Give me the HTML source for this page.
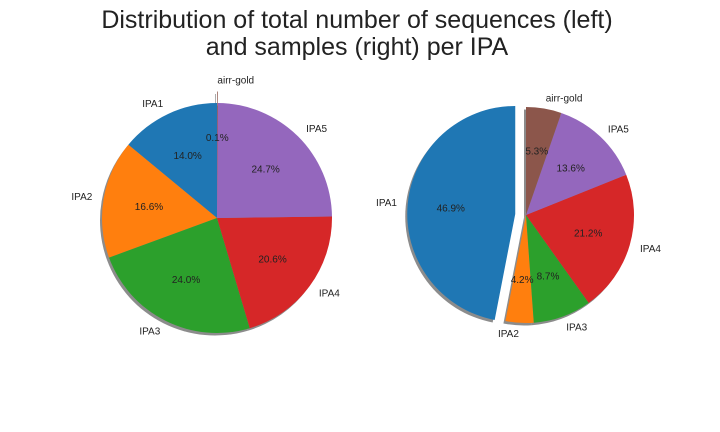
<!DOCTYPE html>
<html><head><meta charset="utf-8"><style>
html,body{margin:0;padding:0;background:#fff;}
svg{display:block;font-family:"Liberation Sans",sans-serif;}
</style></head><body>
<svg id="c" width="720" height="432" viewBox="0 0 720 432">
<text x="357" y="28" text-anchor="middle" font-size="25" fill="#222">Distribution of total number of sequences (left)</text>
<text x="357" y="55" text-anchor="middle" font-size="25" fill="#222">and samples (right) per IPA</text>
<g id="left"></g>
<g id="right"></g>
</svg>
<script>
const categories = ["IPA1","IPA2","IPA3","IPA4","IPA5","airr-gold"];
const seqValues = [14.0,16.6,24.0,20.6,24.7,0.1];
const sampleValues = [46.9,4.2,8.7,21.2,13.6,5.3];
const seqExplode = [0,0,0,0,0,0.1];
const sampleExplode = [0.1,0,0,0,0,0];
const colors = ["#1f77b4","#ff7f0e","#2ca02c","#d62728","#9467bd","#8c564b"];
const NS="http://www.w3.org/2000/svg";
function mk(t,a,p){const e=document.createElementNS(NS,t);for(const k in a)e.setAttribute(k,a[k]);p.appendChild(e);return e;}
function drawPie(g,vals,expl,cx,cy,r,prefix){
  const tot=vals.reduce((a,b)=>a+b,0);
  const wedges=[];let a=90;
  vals.forEach((v,i)=>{const s=a,e=a+v/tot*360;a=e;const m=(s+e)/2*Math.PI/180;
    wedges.push({s,e,m,ox:Math.cos(m)*expl[i]*r,oy:-Math.sin(m)*expl[i]*r});});
  function path(w,dx,dy){const x=cx+w.ox+dx,y=cy+w.oy+dy;
    const s=w.s*Math.PI/180,e=w.e*Math.PI/180;
    const x1=x+r*Math.cos(s),y1=y-r*Math.sin(s),x2=x+r*Math.cos(e),y2=y-r*Math.sin(e);
    const large=(w.e-w.s)>180?1:0;
    return `M${x},${y}L${x1},${y1}A${r},${r} 0 ${large} 0 ${x2},${y2}Z`;}
  wedges.forEach((w,i)=>{const sh=mk('path',{d:path(w,-2,2.5),fill:'#000','fill-opacity':0.45},g);
    
    });
  wedges.forEach((w,i)=>{const p=mk('path',{d:path(w,0,0),fill:colors[i]},g);
    
    });
  wedges.forEach((w,i)=>{const x=cx+w.ox,y=cy+w.oy;
    const lx=x+1.1*r*Math.cos(w.m),ly=y-1.1*r*Math.sin(w.m);
    const anchor=Math.cos(w.m)<-0.01?'end':'start';
    const t=mk('text',{x:lx,y:ly+3.5,'text-anchor':anchor,'font-size':10,fill:'#222'},g);t.textContent=categories[i];
    
    
    const px=x+0.6*r*Math.cos(w.m),py=y-0.6*r*Math.sin(w.m);
    const q=mk('text',{x:px,y:py+3.5,'text-anchor':'middle','font-size':10,fill:'#222'},g);q.textContent=vals[i].toFixed(1)+'%';
    
    });
}
drawPie(document.getElementById('left'),seqValues,seqExplode,217,218,115,'sequences');
drawPie(document.getElementById('right'),sampleValues,sampleExplode,526,215,108,'samples');
</script>
</body></html>
